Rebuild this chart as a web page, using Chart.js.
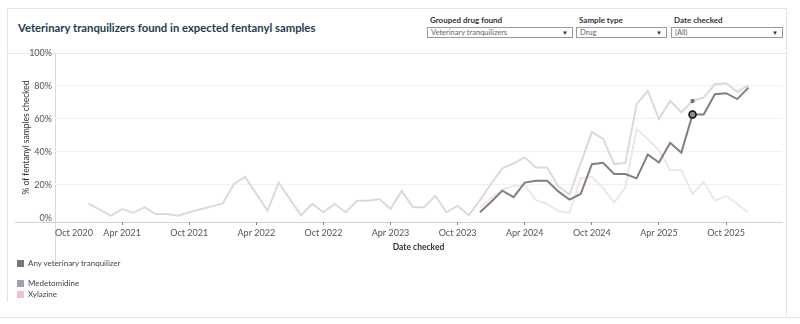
<!DOCTYPE html>
<html lang="en">
<head>
<meta charset="UTF-8">
<title>Veterinary tranquilizers found in expected fentanyl samples</title>
<style>
    body { margin: 0; background: #fff; font-family: Lato, "Open Sans", sans-serif; }
    .page { position: relative; width: 800px; height: 324px; overflow: hidden; }
    .line { position: absolute; background: #e4e4e4; }
    .titulo { position: absolute; left: 18px; top: 21px; font-size: 11.3px; font-weight: bold; color: #1f3b4e; }
    .filtro { position: absolute; top: 15px; }
    .filtro p { margin: 0 0 2px 3px; font-size: 8px; font-weight: bold; color: #333; }
    .caixa { position: relative; height: 9px; border: 1px solid #9a9a9a; font-size: 7.5px; line-height: 9px; color: #666; padding-left: 3px; }
    .caixa span { position: absolute; right: 4px; top: 0; font-size: 6px; color: #333; }
    .legenda { position: absolute; left: 17px; font-size: 8px; color: #444; }
    .legenda i { display: inline-block; width: 7px; height: 7px; margin-right: 4px; vertical-align: -1px; }
    canvas { position: absolute; left: 0; top: 0; }
</style>
</head>
<body>
<div class="page">
    <div class="line" style="left:7px; top:8px; width:780px; height:1px;"></div>
    <div class="line" style="left:7px; top:8px; width:1px; height:294px;"></div>
    <div class="line" style="left:786px; top:8px; width:1px; height:310px;"></div>
    <div class="line" style="left:0; top:317px; width:800px; height:1px;"></div>
    <div class="line" style="left:7px; top:53px; width:780px; height:1px; background:#e8e8e8;"></div>
    <div class="line" style="left:55px; top:53px; width:1px; height:209px; background:#dadada;"></div>
    <div class="line" style="left:15px; top:222px; width:768px; height:1px; background:#d2d2d2;"></div>

    <div class="titulo">Veterinary tranquilizers found in expected fentanyl samples</div>

    <div class="filtro" style="left:427px; width:146px;">
        <p>Grouped drug found</p>
        <div class="caixa">Veterinary tranquilizers<span>▼</span></div>
    </div>
    <div class="filtro" style="left:576px; width:91px;">
        <p>Sample type</p>
        <div class="caixa">Drug<span>▼</span></div>
    </div>
    <div class="filtro" style="left:671px; width:112px;">
        <p>Date checked</p>
        <div class="caixa">(All)<span>▼</span></div>
    </div>

    <canvas id="grafico" width="800" height="324"></canvas>

    <div class="legenda" style="top:258px;"><i style="background:#777777;"></i>Any veterinary tranquilizer</div>
    <div class="legenda" style="top:278px;"><i style="background:#a89caf;"></i>Medetomidine</div>
    <div class="legenda" style="top:289px;"><i style="background:#f6bcd2;"></i>Xylazine</div>
</div>

<script src="https://cdn.jsdelivr.net/npm/chart.js@4.4.0/dist/chart.umd.min.js"></script>
<script>
    // meses contados a partir de Oct 2020 (0 = Oct 2020)
    const rotulosEixo = ['Oct 2020', 'Apr 2021', 'Oct 2021', 'Apr 2022', 'Oct 2022', 'Apr 2023',
        'Oct 2023', 'Apr 2024', 'Oct 2024', 'Apr 2025', 'Oct 2025'];

    const mesesQualquer = [3, 5, 6, 7, 8, 9, 10, 11, 12, 15, 16, 17, 19, 20, 22, 23, 24, 25, 26, 27, 28, 29, 30,
        31, 32, 33, 34, 35, 36, 37, 38, 39, 40, 41, 42, 43, 44, 45, 46, 47, 48, 49, 50, 51, 52, 53, 54, 55, 56,
        57, 58, 59, 60, 61, 62];
    const valoresQualquer = [8.5, 1.3, 5.2, 3.0, 6.4, 2.2, 2.2, 1.2, 3.3, 8.7, 20.5, 24.8, 4.3, 21.3, 1.4, 8.5,
        3.3, 8.3, 3.3, 10.3, 10.3, 11.3, 5.3, 16.3, 6.3, 6.3, 13.3, 3.3, 7.2, 1.5, 10.7, 20.8, 30, 33, 36.6,
        30.5, 30.5, 19, 14, 33, 52, 48, 32.5, 33.3, 68.9, 77, 60, 70.9, 64, 70.9, 73, 81, 81.6, 76.5, 80.4];

    const mesesMedetomidina = [38, 39, 40, 41, 42, 43, 44, 45, 46, 47, 48, 49, 50, 51, 52, 53, 54, 55, 56, 57,
        58, 59, 60, 61, 62];
    const valoresMedetomidina = [3.3, 9.7, 16.4, 12.5, 21.3, 22.4, 22.4, 16, 11, 14.4, 32.5, 33.3, 26.5, 26.5,
        23.9, 38.4, 33.5, 45.5, 39.5, 62.7, 62.7, 75, 75.6, 72, 79];

    const mesesXilazina = [38, 39, 40, 41, 42, 43, 44, 45, 46, 47, 48, 49, 50, 51, 52, 53, 54, 55, 56, 57, 58,
        59, 60, 61, 62];
    const valoresXilazina = [6, 12, 17, 19.2, 19.8, 10.7, 8.5, 4, 3, 24, 24.8, 18, 9.2, 18.5, 54, 47.6, 41,
        28.9, 28.9, 14.4, 21.8, 10.3, 13.3, 8.3, 3];

    // mês marcado (Jul 2025)
    const mesMarcado = 57;

    function pontos(meses, valores) {
        return meses.map((m, i) => ({ x: m, y: valores[i] }));
    }

    const ctx = document.getElementById('grafico');

    new Chart(ctx, {
        type: 'line',
        data: {
            datasets: [{
                label: 'Medetomidine',
                data: pontos(mesesMedetomidina, valoresMedetomidina),
                borderColor: '#867b8a',
                borderWidth: 2,
                order: 0,
                pointRadius: (c) => c.raw && c.raw.x === mesMarcado ? 3.5 : 0,
                pointBackgroundColor: '#8c8c8c',
                pointBorderColor: '#111111',
                pointBorderWidth: 1.6
            }, {
                label: 'Any veterinary tranquilizer',
                data: pontos(mesesQualquer, valoresQualquer),
                borderColor: '#dadada',
                borderWidth: 2,
                order: 1,
                pointRadius: (c) => c.raw && c.raw.x === mesMarcado ? 2.2 : 0,
                pointBackgroundColor: '#777777',
                pointBorderWidth: 0
            }, {
                label: 'Xylazine',
                data: pontos(mesesXilazina, valoresXilazina),
                borderColor: '#efe6e9',
                borderWidth: 2,
                order: 2,
                pointRadius: 0
            }]
        },
        options: {
            responsive: false,
            animation: false,
            events: [],
            layout: { padding: { top: 53, right: 18, bottom: 72, left: 0 } },
            plugins: { legend: { display: false }, tooltip: { enabled: false } },
            scales: {
                x: {
                    type: 'linear',
                    min: 0,
                    max: 65,
                    afterFit: (s) => { s.height = 30; },
                    afterBuildTicks: (s) => {
                        s.ticks = [0, 6, 12, 18, 24, 30, 36, 42, 48, 54, 60, 65].map(v => ({ value: v }));
                    },
                    ticks: {
                        autoSkip: false,
                        maxRotation: 0,
                        align: 'inner',
                        padding: 3,
                        color: '#555',
                        font: { family: 'Lato', size: 9 },
                        callback: (v) => rotulosEixo[v / 6] || ''
                    },
                    grid: {
                        drawOnChartArea: false,
                        drawTicks: true,
                        tickLength: 3,
                        tickColor: (c) => (c.tick && (c.tick.value === 0 || c.tick.value === 65)) ? 'rgba(0,0,0,0)' : '#888'
                    },
                    border: { display: false },
                    title: {
                        display: true,
                        text: 'Date checked',
                        color: '#333',
                        font: { family: 'Lato', size: 8.5, weight: 'bold' },
                        padding: { top: 0, bottom: 0 }
                    }
                },
                y: {
                    min: -2.6,
                    max: 100,
                    afterFit: (s) => { s.width = 55; },
                    afterBuildTicks: (s) => {
                        s.ticks = [0, 20, 40, 60, 80, 100].map(v => ({ value: v }));
                    },
                    ticks: {
                        padding: 3,
                        color: '#555',
                        font: { family: 'Lato', size: 9 },
                        callback: (v) => v + '%'
                    },
                    grid: {
                        drawTicks: false,
                        color: (c) => (c.tick && c.tick.value > 0 && c.tick.value < 100) ? '#f1f1f1' : 'rgba(0,0,0,0)'
                    },
                    border: { display: false },
                    title: {
                        display: true,
                        text: '% of fentanyl samples checked',
                        color: '#333',
                        font: { family: 'Lato', size: 8.5 },
                        padding: { top: 21, bottom: 0 }
                    }
                }
            }
        }
    });
</script>
</body>
</html>
